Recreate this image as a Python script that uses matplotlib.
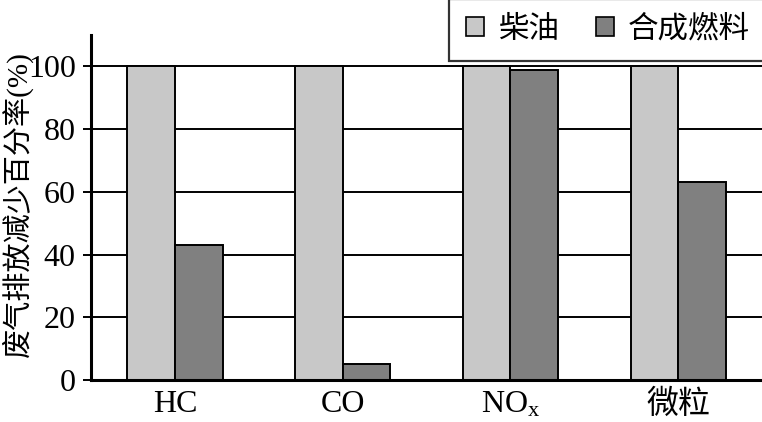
import numpy as np
import matplotlib
matplotlib.use("Agg")
import matplotlib.pyplot as plt

plt.rcParams["font.family"] = ["Liberation Serif", "Noto Sans CJK SC"]
plt.rcParams["mathtext.fontset"] = "custom"
plt.rcParams["mathtext.rm"] = "Liberation Serif"
plt.rcParams["mathtext.it"] = "Liberation Serif:italic"

# ── Data ───────────────────────────────────────────────────────
categories = ["HC", "CO", r"NO$_{\mathrm{x}}$", "微粒"]
diesel = [100, 100, 100, 100]
synthetic = [43, 5, 99, 63]
series_names = ["柴油", "合成燃料"]
yticks = [0, 20, 40, 60, 80, 100]

W, H = 762, 422
fig = plt.figure(figsize=(W / 100, H / 100), dpi=100)
ax = fig.add_axes([91 / W, 1 - 380 / H, 672 / W, 345 / H])

x = np.arange(len(categories))
bw = 0.284
ax.bar(x - bw / 2, diesel, bw, color="#c8c8c8", edgecolor="black",
       linewidth=1.4, label=series_names[0], zorder=3)
ax.bar(x + bw / 2, synthetic, bw, color="#808080", edgecolor="black",
       linewidth=1.4, label=series_names[1], zorder=3)

ax.set_xlim(-0.5, 3.505)
ax.set_ylim(0, 110)
ax.set_yticks(yticks)
ax.set_xticks(x)
ax.set_xticklabels(categories)
ax.tick_params(axis="y", length=6, width=1.4, pad=5, labelsize=23)
ax.tick_params(axis="x", length=0, pad=7, labelsize=23)

for v in yticks[1:]:
    ax.axhline(v, color="black", linewidth=1.4, zorder=1)

for s in ["top", "right"]:
    ax.spines[s].set_visible(False)
ax.spines["left"].set_linewidth(2.2)
ax.spines["bottom"].set_linewidth(2.2)
ax.spines["bottom"].set_zorder(4)

ax.set_ylabel("废气排放减少百分率(%)", fontsize=21)
ax.yaxis.set_label_coords(-0.087, 0.51)

leg = fig.legend(loc="upper right", bbox_to_anchor=(1.006, 1.003), ncol=2,
                 fontsize=22, frameon=True, fancybox=False, edgecolor="black",
                 handlelength=0.6, handleheight=0.6, handletextpad=0.45,
                 columnspacing=1.2, borderpad=0.55, borderaxespad=0)
leg.get_frame().set_linewidth(1.6)
for h in leg.legend_handles:
    h.set_linewidth(1.2)

fig.savefig("out.png", dpi=100)
